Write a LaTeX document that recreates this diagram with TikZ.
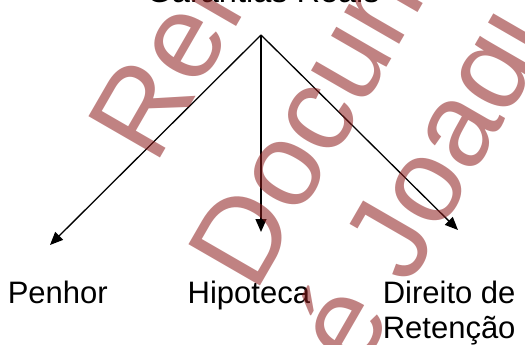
\documentclass[tikz,border=0pt]{standalone}
\usepackage{fontspec}
\setmainfont{Liberation Sans}
\usetikzlibrary{arrows.meta}
\definecolor{wmred}{RGB}{140,28,28}
\tikzset{
  lbl/.style={inner sep=0pt, anchor=base west, font=\fontsize{31}{35}\selectfont},
  ttl/.style={inner sep=0pt, anchor=base west, font=\fontsize{32.5}{36}\selectfont},
  conn/.style={line width=1.3pt, -{Triangle[length=13pt,width=11pt]}},
  wm/.style={inner sep=0pt, anchor=base west, rotate=60, text=wmred, text opacity=0.55,
    font=\fontsize{120}{120}\selectfont}
}
\begin{document}
\begin{tikzpicture}[x=1pt,y=-1pt]
\useasboundingbox (0,0) rectangle (525,345);
\node[ttl] (title) at (146.5,2.5) {Garantias Reais};
\coordinate (src) at (261,35);
\coordinate (tipA) at (50,245);
\coordinate (tipB) at (261,232);
\coordinate (tipC) at (458,230);
\draw[conn] (src) -- (tipA);
\draw[conn] (src) -- (tipB);
\draw[conn] (src) -- (tipC);
\node[lbl] (penhor) at (7.6,303) {Penhor};
\node[lbl] (hipoteca) at (187.5,303) {Hipoteca};
\node[lbl, align=left] (direito) at (382.6,338) {Direito de\\Retenção};
\begin{scope}
\clip (0,0) rectangle (525,345);
\node[wm] (wm1) at (155.3,166.2) {Relatório};
\node[wm] (wm2) at (255.3,294.2) {Documento};
\node[wm] (wm3) at (266,535) {José Joaquim};
\end{scope}
\end{tikzpicture}
\end{document}
